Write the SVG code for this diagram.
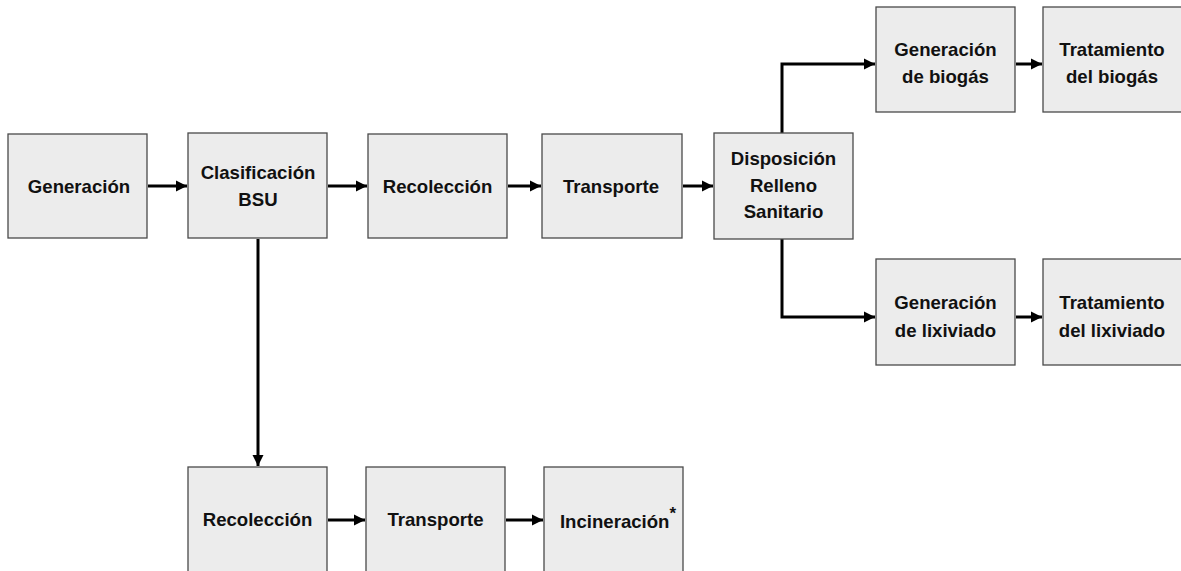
<svg xmlns="http://www.w3.org/2000/svg" width="1181" height="571" viewBox="0 0 1181 571">
<style>
.box{fill:#ececec;stroke:#4a4a4a;stroke-width:1.3}
.t{font-family:"Liberation Sans",Arial,sans-serif;font-weight:bold;font-size:18.6px;fill:#111;text-anchor:middle}
.c{fill:none;stroke:#000;stroke-width:3}
</style>
<defs>
<marker id="a" viewBox="0 0 10 10" refX="10" refY="5" markerWidth="3.8" markerHeight="3.8" orient="auto" markerUnits="strokeWidth">
<path d="M0,0 L10,5 L0,10 z" fill="#000"/>
</marker>
</defs>
<rect width="1181" height="571" fill="#fff"/>
<g id="connectors">
<line class="c" x1="148" y1="186" x2="187" y2="186" marker-end="url(#a)"/>
<line class="c" x1="328" y1="186" x2="367" y2="186" marker-end="url(#a)"/>
<line class="c" x1="508" y1="186" x2="541" y2="186" marker-end="url(#a)"/>
<line class="c" x1="683" y1="186" x2="713" y2="186" marker-end="url(#a)"/>
<polyline class="c" points="782,133 782,64 875,64" marker-end="url(#a)"/>
<polyline class="c" points="782,239 782,317 875,317" marker-end="url(#a)"/>
<line class="c" x1="1016" y1="64" x2="1042" y2="64" marker-end="url(#a)"/>
<line class="c" x1="1016" y1="317" x2="1042" y2="317" marker-end="url(#a)"/>
<line class="c" x1="258" y1="239" x2="258" y2="466" marker-end="url(#a)"/>
<line class="c" x1="328" y1="520" x2="365" y2="520" marker-end="url(#a)"/>
<line class="c" x1="506" y1="520" x2="543" y2="520" marker-end="url(#a)"/>
</g>
<g id="generacion"><rect class="box" x="8" y="134" width="139" height="104"/><text class="t" x="79" y="193">Generación</text></g>
<g id="clasificacion"><rect class="box" x="188" y="133" width="139" height="105"/><text class="t" x="258" y="179">Clasificación</text><text class="t" x="258" y="206">BSU</text></g>
<g id="recoleccion"><rect class="box" x="368" y="134" width="139" height="104"/><text class="t" x="437.5" y="193">Recolección</text></g>
<g id="transporte"><rect class="box" x="542" y="134" width="140" height="104"/><text class="t" x="611" y="193">Transporte</text></g>
<g id="disposicion"><rect class="box" x="714" y="133" width="139" height="106"/><text class="t" x="783.5" y="165">Disposición</text><text class="t" x="783.5" y="192">Relleno</text><text class="t" x="783.5" y="218">Sanitario</text></g>
<g id="gen-biogas"><rect class="box" x="876" y="7" width="139" height="105"/><text class="t" x="945.5" y="56">Generación</text><text class="t" x="945.5" y="83">de biogás</text></g>
<g id="trat-biogas"><rect class="box" x="1043" y="7" width="139" height="105"/><text class="t" x="1112" y="56">Tratamiento</text><text class="t" x="1112" y="83">del biogás</text></g>
<g id="gen-lixiviado"><rect class="box" x="876" y="259" width="139" height="106"/><text class="t" x="945.5" y="309">Generación</text><text class="t" x="945.5" y="337">de lixiviado</text></g>
<g id="trat-lixiviado"><rect class="box" x="1043" y="259" width="139" height="106"/><text class="t" x="1112" y="309">Tratamiento</text><text class="t" x="1112" y="337">del lixiviado</text></g>
<g id="recoleccion2"><rect class="box" x="188" y="467" width="139" height="110"/><text class="t" x="257.5" y="526">Recolección</text></g>
<g id="transporte2"><rect class="box" x="366" y="467" width="139" height="110"/><text class="t" x="435.5" y="526">Transporte</text></g>
<g id="incineracion"><rect class="box" x="544" y="467" width="139" height="110"/><text class="t" x="618" y="528">Incineración<tspan font-size="17" dy="-9">*</tspan></text></g>
</svg>
